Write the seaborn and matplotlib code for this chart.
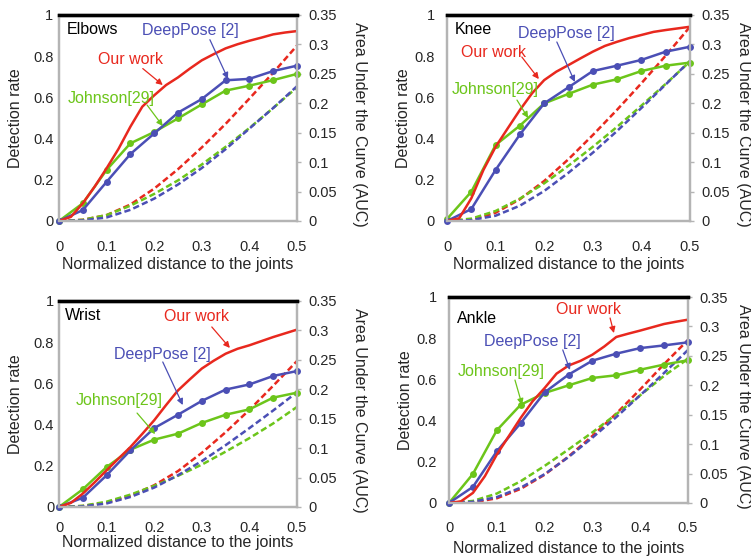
import numpy as np
import matplotlib
matplotlib.use("Agg")
import matplotlib.pyplot as plt
import seaborn as sns

# distances (coarse grid for marker series, fine grid for our work)
dist = [0, 0.05, 0.1, 0.15, 0.2, 0.25, 0.3, 0.35, 0.4, 0.45, 0.5]
dist_fine = [0, 0.025, 0.05, 0.075, 0.1, 0.125, 0.15, 0.175, 0.2, 0.225, 0.25,
             0.275, 0.3, 0.325, 0.35, 0.375, 0.4, 0.425, 0.45, 0.475, 0.5]

joints = ["Elbows", "Knee", "Wrist", "Ankle"]

# detection rates
ours_elbows = [0, 0.02, 0.086, 0.167, 0.256, 0.35, 0.458, 0.555, 0.61, 0.66, 0.697,
               0.74, 0.78, 0.81, 0.838, 0.858, 0.875, 0.89, 0.906, 0.915, 0.922]
ours_knee = [0, 0.013, 0.11, 0.248, 0.36, 0.45, 0.539, 0.62, 0.684, 0.725, 0.757,
             0.79, 0.822, 0.85, 0.87, 0.888, 0.903, 0.918, 0.927, 0.935, 0.943]
ours_wrist = [0, 0.02, 0.065, 0.12, 0.178, 0.235, 0.291, 0.355, 0.421, 0.495, 0.566,
              0.62, 0.672, 0.71, 0.744, 0.768, 0.785, 0.805, 0.825, 0.843, 0.861]
ours_ankle = [0, 0.008, 0.049, 0.13, 0.235, 0.324, 0.413, 0.494, 0.558, 0.628, 0.667,
              0.69, 0.72, 0.76, 0.806, 0.822, 0.837, 0.853, 0.869, 0.88, 0.89]

deeppose_elbows = [0, 0.053, 0.19, 0.325, 0.425, 0.526, 0.592, 0.683, 0.69, 0.728, 0.754]
deeppose_knee = [0, 0.058, 0.248, 0.42, 0.571, 0.649, 0.728, 0.754, 0.782, 0.822, 0.846]
deeppose_wrist = [0, 0.045, 0.154, 0.275, 0.383, 0.448, 0.515, 0.57, 0.595, 0.636, 0.66]
deeppose_ankle = [0, 0.078, 0.251, 0.388, 0.537, 0.623, 0.691, 0.725, 0.752, 0.765, 0.78]

johnson_elbows = [0, 0.086, 0.248, 0.377, 0.432, 0.498, 0.566, 0.633, 0.657, 0.684, 0.714]
johnson_knee = [0.01, 0.142, 0.369, 0.463, 0.571, 0.617, 0.662, 0.688, 0.728, 0.754, 0.769]
johnson_wrist = [0, 0.086, 0.194, 0.278, 0.327, 0.356, 0.408, 0.448, 0.474, 0.531, 0.555]
johnson_ankle = [0, 0.141, 0.353, 0.477, 0.534, 0.571, 0.607, 0.62, 0.647, 0.672, 0.693]

# area under the curve (right axis)
auc_ours_elbows = [0, 0.002, 0.010, 0.028, 0.055, 0.088, 0.125, 0.165, 0.208, 0.252, 0.298]
auc_ours_knee = [0, 0.002, 0.014, 0.037, 0.068, 0.105, 0.146, 0.189, 0.234, 0.281, 0.33]
auc_ours_wrist = [0, 0.0016, 0.0077, 0.019, 0.037, 0.061, 0.092, 0.127, 0.165, 0.206, 0.248]
auc_ours_ankle = [0, 0.001, 0.008, 0.024, 0.048, 0.079, 0.114, 0.152, 0.193, 0.236, 0.277]

auc_deeppose_elbows = [0, 0.001, 0.006, 0.019, 0.038, 0.062, 0.090, 0.122, 0.157, 0.192, 0.229]
auc_deeppose_knee = [0, 0.0015, 0.009, 0.026, 0.051, 0.082, 0.116, 0.153, 0.192, 0.232, 0.272]
auc_deeppose_wrist = [0, 0.001, 0.006, 0.017, 0.033, 0.054, 0.078, 0.105, 0.134, 0.164, 0.195]
auc_deeppose_ankle = [0, 0.002, 0.010, 0.026, 0.049, 0.078, 0.111, 0.146, 0.183, 0.221, 0.26]

auc_johnson_elbows = [0, 0.002, 0.010, 0.026, 0.046, 0.069, 0.096, 0.126, 0.158, 0.192, 0.227]
auc_johnson_knee = [0, 0.004, 0.017, 0.038, 0.064, 0.094, 0.126, 0.160, 0.196, 0.233, 0.271]
auc_johnson_wrist = [0, 0.002, 0.009, 0.021, 0.036, 0.053, 0.072, 0.094, 0.117, 0.142, 0.17]
auc_johnson_ankle = [0, 0.0035, 0.016, 0.037, 0.063, 0.091, 0.120, 0.151, 0.183, 0.216, 0.245]

RED = "#e8281e"
BLUE = "#4b4fb5"
GREEN = "#6cc51a"
GRAY = "#b4b4b4"

sns.set_style("white")
plt.rcParams["font.family"] = ["Liberation Sans", "DejaVu Sans"]

fig = plt.figure(figsize=(7.51, 5.59), dpi=100)

boxes = [
    [59 / 751, 1 - 221 / 559, 238 / 751, 206 / 559],
    [447 / 751, 1 - 221 / 559, 243 / 751, 206 / 559],
    [59 / 751, 1 - 507 / 559, 238 / 751, 206 / 559],
    [449 / 751, 1 - 503 / 559, 239 / 751, 206 / 559],
]

data = {
    "Elbows": (ours_elbows, deeppose_elbows, johnson_elbows,
               auc_ours_elbows, auc_deeppose_elbows, auc_johnson_elbows),
    "Knee": (ours_knee, deeppose_knee, johnson_knee,
             auc_ours_knee, auc_deeppose_knee, auc_johnson_knee),
    "Wrist": (ours_wrist, deeppose_wrist, johnson_wrist,
              auc_ours_wrist, auc_deeppose_wrist, auc_johnson_wrist),
    "Ankle": (ours_ankle, deeppose_ankle, johnson_ankle,
              auc_ours_ankle, auc_deeppose_ankle, auc_johnson_ankle),
}

# label text positions and arrow ends (data coords): text xy, arrow start, arrow end
notes = {
    "Elbows": {"title": (0.017, 0.93),
               "ours": ((0.150, 0.786), (0.176, 0.74), (0.218, 0.66)),
               "deep": ((0.277, 0.927), (0.317, 0.88), (0.355, 0.69)),
               "john": ((0.110, 0.597), (0.185, 0.563), (0.218, 0.461))},
    "Knee": {"title": (0.016, 0.93),
             "ours": ((0.095, 0.816), (0.154, 0.796), (0.189, 0.689)),
             "deep": ((0.245, 0.912), (0.226, 0.869), (0.263, 0.675)),
             "john": ((0.099, 0.636), (0.144, 0.587), (0.167, 0.50))},
    "Wrist": {"title": (0.013, 0.932),
              "ours": ((0.288, 0.927), (0.321, 0.874), (0.359, 0.772)),
              "deep": ((0.218, 0.738), (0.218, 0.704), (0.26, 0.495)),
              "john": ((0.126, 0.519), (0.164, 0.456), (0.202, 0.354))},
    "Ankle": {"title": (0.017, 0.898),
              "ours": ((0.291, 0.937), (0.337, 0.898), (0.345, 0.825)),
              "deep": ((0.174, 0.782), (0.238, 0.743), (0.253, 0.646)),
              "john": ((0.110, 0.636), (0.138, 0.597), (0.153, 0.476))},
}

# tick pads / label offsets per panel
xpads = {"Elbows": 14, "Knee": 14, "Wrist": 10, "Ankle": 13}
ypads = {"Elbows": 4, "Knee": 9, "Wrist": 3.5, "Ankle": 9}
xlab_off = {"Elbows": -0.175, "Knee": -0.175, "Wrist": -0.136, "Ankle": -0.185}
rlab_off = {"Elbows": 63, "Knee": 53, "Wrist": 63, "Ankle": 56}

for name, box in zip(joints, boxes):
    ours, deep, john, a_ours, a_deep, a_john = data[name]
    ax = fig.add_axes(box)
    ax2 = ax.twinx()

    sns.lineplot(x=dist, y=a_ours, ax=ax2, color=RED, lw=1.8, ls=(0, (2.5, 1.3)))
    sns.lineplot(x=dist, y=a_john, ax=ax2, color=GREEN, lw=1.8, ls=(0, (2.5, 1.3)))
    sns.lineplot(x=dist, y=a_deep, ax=ax2, color=BLUE, lw=1.8, ls=(0, (2.5, 1.3)))

    sns.lineplot(x=dist, y=john, ax=ax, color=GREEN, lw=1.8, marker="o",
                 markersize=5, markeredgewidth=0, clip_on=False)
    sns.lineplot(x=dist, y=deep, ax=ax, color=BLUE, lw=1.8, marker="o",
                 markersize=5, markeredgewidth=0, clip_on=False)
    sns.lineplot(x=dist_fine, y=ours, ax=ax, color=RED, lw=1.8)

    ax.set_xlim(0, 0.5)
    ax.set_ylim(0, 1)
    ax2.set_ylim(0, 0.35)
    ax.set_xticks([0, 0.1, 0.2, 0.3, 0.4, 0.5])
    ax.set_xticklabels(["0", "0.1", "0.2", "0.3", "0.4", "0.5"])
    ax.set_yticks([0, 0.2, 0.4, 0.6, 0.8, 1])
    ax.set_yticklabels(["0", "0.2", "0.4", "0.6", "0.8", "1"])
    ax2.set_yticks([0, 0.05, 0.1, 0.15, 0.2, 0.25, 0.3, 0.35])
    ax2.set_yticklabels(["0", "0.05", "0.1", "0.15", "0.2", "0.25", "0.3", "0.35"])

    ax.tick_params(axis="x", length=0, pad=xpads[name], labelsize=10.5)
    ax.tick_params(axis="y", length=0, pad=ypads[name], labelsize=10.5)
    ax2.tick_params(axis="y", length=3, width=1, color=GRAY, pad=5, labelsize=10.5)

    for a in (ax, ax2):
        for side in ("left", "right", "bottom"):
            a.spines[side].set_color(GRAY)
            a.spines[side].set_linewidth(1.6)
        a.spines["top"].set_color("black")
        a.spines["top"].set_linewidth(2.4)

    ax.set_xlabel("Normalized distance to the joints", fontsize=11.5)
    ax.xaxis.set_label_coords(0.5, xlab_off[name])
    ax.set_ylabel("Detection rate", fontsize=11.5)
    ax.yaxis.set_label_coords(-36 / (box[2] * 751), 0.5)
    ax2.set_ylabel("Area Under the Curve (AUC)", fontsize=11.5, rotation=270,
                   va="center")
    ax2.yaxis.set_label_coords(1 + rlab_off[name] / (box[2] * 751), 0.47)

    ax.set_zorder(ax2.get_zorder() + 1)
    ax.patch.set_visible(False)

    n = notes[name]
    ax.text(n["title"][0], n["title"][1], name, fontsize=11.5, color="black",
            ha="left", va="center")
    for key, label, col in (("ours", "Our work", RED), ("deep", "DeepPose [2]", BLUE),
                            ("john", "Johnson[29]", GREEN)):
        txt, start, end = n[key]
        ax.text(txt[0], txt[1], label, fontsize=11.5, color=col, ha="center",
                va="center")
        ax.annotate("", xy=end, xytext=start,
                    arrowprops=dict(arrowstyle="-|>", color=col, lw=0.9,
                                    mutation_scale=9, shrinkA=0, shrinkB=0))

fig.savefig("out.png", dpi=100)
